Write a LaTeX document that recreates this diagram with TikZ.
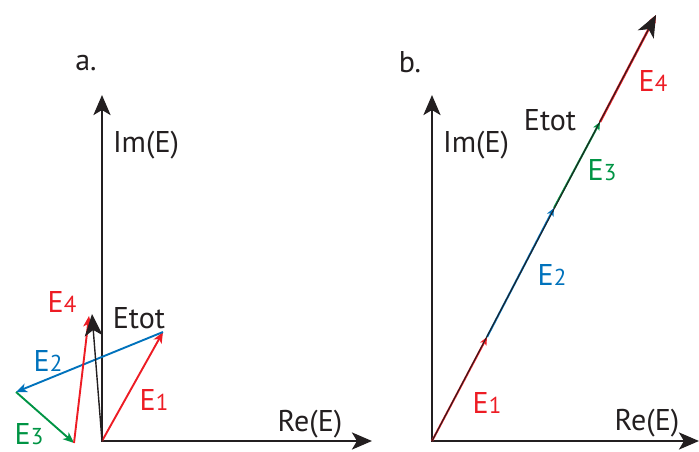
\documentclass[tikz,border=0pt]{standalone}
\usepackage{fontspec}
\setmainfont{PT Sans}
\usetikzlibrary{arrows.meta}
\definecolor{vred}{RGB}{237,28,36}
\definecolor{vblue}{RGB}{0,114,188}
\definecolor{vgreen}{RGB}{0,148,68}
\definecolor{vblack}{RGB}{35,31,32}
\tikzset{
  axis/.style={vblack, line width=2.8pt, line cap=rect, -{Stealth[length=20pt,width=17pt,inset=5pt]}},
  vec/.style={line width=1.9pt, -{Stealth[length=11pt,width=9pt,inset=3pt]}},
  minivec/.style={line width=2pt, -{Stealth[length=8pt,width=7pt,inset=2pt]}},
  totvec/.style={vblack, line width=1.4pt, -{Stealth[length=22pt,width=18pt,inset=6pt]}},
  lbl/.style={font=\fontsize{30}{34}\selectfont, inner sep=0pt},
}
\newcommand\idx[1]{{\fontsize{23}{26}\selectfont #1}}
\begin{document}
\begin{tikzpicture}[x=1pt, y=-1pt]
  \useasboundingbox (0,0) rectangle (699,452);

  % panel a
  \coordinate (oa) at (102,441);
  \coordinate (ya) at (102,95);
  \coordinate (xa) at (372,441);
  \coordinate (a1) at (163,332);
  \coordinate (a2) at (16,392);
  \coordinate (a3) at (74,443);
  \coordinate (a4) at (89,316);
  \coordinate (atot) at (92,314);
  \draw[axis] (oa) -- (ya);
  \draw[axis] (oa) -- (xa);
  \draw[vec, vred] (oa) -- (a1);
  \draw[vec, vblue] (a1) -- (a2);
  \draw[vec, vgreen] (a2) -- (a3);
  \draw[vec, vred] (a3) -- (a4);
  \draw[totvec] (oa) -- (atot);
  \node[lbl, vblack] (lba) at (86,63) {a.};
  \node[lbl, vblack] (ima) at (146,145) {Im(E)};
  \node[lbl, vblack] (rea) at (310,424) {Re(E)};
  \node[lbl, vred] (ea4) at (62,302) {E\idx{4}};
  \node[lbl, vblack] (eatot) at (139,318) {Etot};
  \node[lbl, vblue] (ea2) at (48,361) {E\idx{2}};
  \node[lbl, vred] (ea1) at (154,400) {E\idx{1}};
  \node[lbl, vgreen] (ea3) at (29,434) {E\idx{3}};

  % panel b
  \coordinate (ob) at (432,441);
  \coordinate (yb) at (432,95);
  \coordinate (xb) at (699,441);
  \coordinate (b1) at (487,337);
  \coordinate (b2) at (554,208);
  \coordinate (b3) at (600,122);
  \coordinate (b4) at (656,15);
  \draw[axis] (ob) -- (yb);
  \draw[axis] (ob) -- (xb);
  \draw[minivec, vred] (ob) -- (b1);
  \draw[minivec, vblue] (b1) -- (b2);
  \draw[minivec, vgreen] (b2) -- (b3);
  \draw[minivec, vred, line width=2.4pt] (b3) -- (b4);
  \draw[totvec, line width=1pt] (ob) -- (b4);
  \node[lbl, vblack] (lbb) at (410,62) {b.};
  \node[lbl, vblack] (imb) at (476,145) {Im(E)};
  \node[lbl, vblack] (reb) at (647,423) {Re(E)};
  \node[lbl, vred] (eb1) at (487,403) {E\idx{1}};
  \node[lbl, vblue] (eb2) at (552,275) {E\idx{2}};
  \node[lbl, vgreen] (eb3) at (602,170) {E\idx{3}};
  \node[lbl, vblack] (ebtot) at (550,120) {Etot};
  \node[lbl, vred] (eb4) at (653,81) {E\idx{4}};
\end{tikzpicture}
\end{document}
